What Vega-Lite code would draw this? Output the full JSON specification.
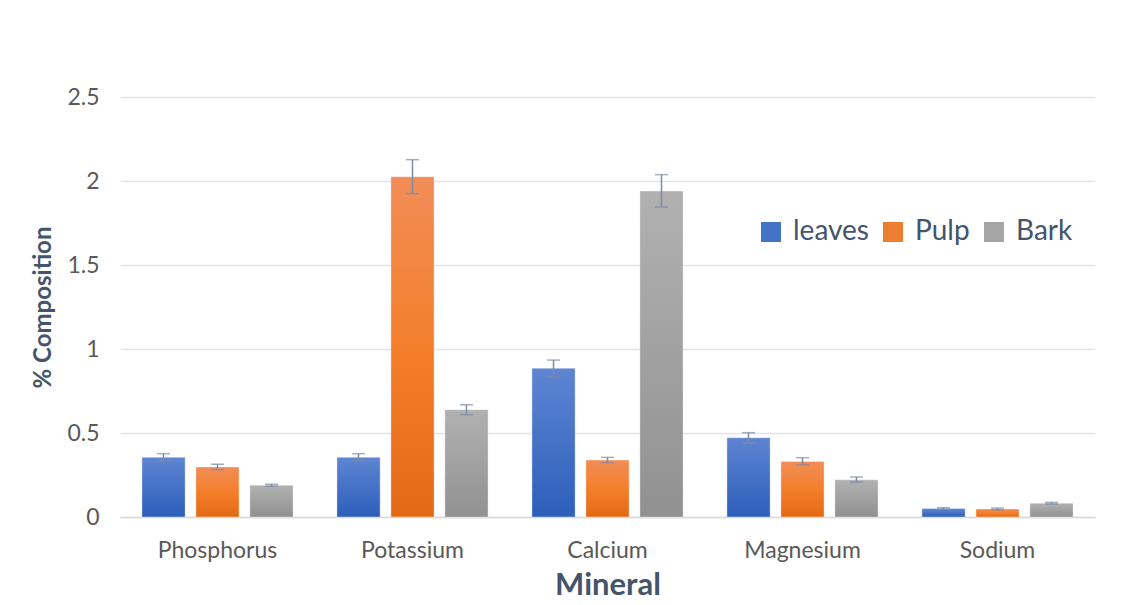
{
  "$schema": "https://vega.github.io/schema/vega-lite/v6.json",
  "width": 975,
  "height": 420,
  "autosize": "none",
  "padding": {"left": 120, "top": 97, "right": 35, "bottom": 88},
  "background": "white",
  "data": {
    "values": [
      {"mineral": "Phosphorus", "series": "leaves", "value": 0.355, "lo": 0.335, "hi": 0.377},
      {"mineral": "Phosphorus", "series": "Pulp", "value": 0.298, "lo": 0.282, "hi": 0.314},
      {"mineral": "Phosphorus", "series": "Bark", "value": 0.189, "lo": 0.183, "hi": 0.195},
      {"mineral": "Potassium", "series": "leaves", "value": 0.355, "lo": 0.335, "hi": 0.377},
      {"mineral": "Potassium", "series": "Pulp", "value": 2.025, "lo": 1.925, "hi": 2.127},
      {"mineral": "Potassium", "series": "Bark", "value": 0.639, "lo": 0.609, "hi": 0.668},
      {"mineral": "Calcium", "series": "leaves", "value": 0.885, "lo": 0.835, "hi": 0.934},
      {"mineral": "Calcium", "series": "Pulp", "value": 0.339, "lo": 0.323, "hi": 0.355},
      {"mineral": "Calcium", "series": "Bark", "value": 1.94, "lo": 1.845, "hi": 2.038},
      {"mineral": "Magnesium", "series": "leaves", "value": 0.472, "lo": 0.442, "hi": 0.502},
      {"mineral": "Magnesium", "series": "Pulp", "value": 0.331, "lo": 0.31, "hi": 0.353},
      {"mineral": "Magnesium", "series": "Bark", "value": 0.222, "lo": 0.207, "hi": 0.238},
      {"mineral": "Sodium", "series": "leaves", "value": 0.05, "lo": 0.045, "hi": 0.055},
      {"mineral": "Sodium", "series": "Pulp", "value": 0.048, "lo": 0.043, "hi": 0.053},
      {"mineral": "Sodium", "series": "Bark", "value": 0.082, "lo": 0.077, "hi": 0.087}
    ]
  },
  "encoding": {
    "x": {
      "field": "mineral",
      "type": "nominal",
      "sort": ["Phosphorus", "Potassium", "Calcium", "Magnesium", "Sodium"],
      "scale": {"paddingInner": 0.225, "paddingOuter": 0.1125},
      "axis": {
        "title": "Mineral",
        "labelAngle": 0,
        "labelFont": "Lato",
        "labelFontSize": 23,
        "labelColor": "#595959",
        "labelPadding": 22,
        "ticks": false,
        "domainColor": "#d9d9d9",
        "domainWidth": 1.5,
        "titleFont": "Lato",
        "titleFontSize": 31,
        "titleFontWeight": "bold",
        "titleColor": "#44546a",
        "titlePadding": 8
      }
    },
    "xOffset": {
      "field": "series",
      "type": "nominal",
      "sort": ["leaves", "Pulp", "Bark"],
      "scale": {"paddingInner": 0.2}
    }
  },
  "layer": [
    {
      "mark": {"type": "bar", "stroke": "#ffffff", "strokeOpacity": 0.35, "strokeWidth": 1},
      "encoding": {
        "y": {
          "field": "value",
          "type": "quantitative",
          "scale": {"domain": [0, 2.5], "nice": false},
          "axis": {
            "title": "% Composition",
            "values": [0, 0.5, 1, 1.5, 2, 2.5],
            "format": "~g",
            "labelFont": "Lato",
            "labelFontSize": 23,
            "labelColor": "#595959",
            "labelPadding": 21,
            "ticks": false,
            "domain": false,
            "gridColor": "#e1e4e9",
            "gridWidth": 1.5,
            "titleFont": "Lato",
            "titleFontSize": 24,
            "titleFontWeight": "bold",
            "titleColor": "#44546a",
            "titlePadding": 11
          }
        },
        "color": {
          "field": "series",
          "type": "nominal",
          "scale": {"domain": ["leaves", "Pulp", "Bark"], "range": ["#4472c4", "#ed7d31", "#a5a5a5"]},
          "legend": {
            "title": null,
            "orient": "none",
            "legendX": 637,
            "legendY": 121,
            "direction": "horizontal",
            "symbolType": "square",
            "symbolSize": 400,
            "symbolStrokeWidth": 0,
            "labelFont": "Lato",
            "labelFontSize": 28,
            "labelColor": "#44546a",
            "columnPadding": 10,
            "labelOffset": 8
          },
          "condition": [
            {"test": "datum.series === 'leaves'", "value": {"gradient": "linear", "x1": 0, "y1": 0, "x2": 0, "y2": 1, "stops": [{"offset": 0, "color": "#5e85d2"}, {"offset": 1, "color": "#2c5fba"}]}},
            {"test": "datum.series === 'Pulp'", "value": {"gradient": "linear", "x1": 0, "y1": 0, "x2": 0, "y2": 1, "stops": [{"offset": 0, "color": "#f18d57"}, {"offset": 0.5, "color": "#f47f2b"}, {"offset": 1, "color": "#e26a16"}]}},
            {"test": "datum.series === 'Bark'", "value": {"gradient": "linear", "x1": 0, "y1": 0, "x2": 0, "y2": 1, "stops": [{"offset": 0, "color": "#b1b1b1"}, {"offset": 1, "color": "#919191"}]}}
          ]
        }
      }
    },
    {
      "mark": {"type": "rule", "color": "#7d8ca6", "strokeWidth": 1.5},
      "encoding": {
        "y": {"field": "lo", "type": "quantitative"},
        "y2": {"field": "hi"}
      }
    },
    {
      "mark": {"type": "tick", "color": "#7d8ca6", "size": 13, "thickness": 1.5},
      "encoding": {"y": {"field": "lo", "type": "quantitative"}}
    },
    {
      "mark": {"type": "tick", "color": "#7d8ca6", "size": 13, "thickness": 1.5},
      "encoding": {"y": {"field": "hi", "type": "quantitative"}}
    }
  ],
  "config": {"view": {"stroke": null}}
}
